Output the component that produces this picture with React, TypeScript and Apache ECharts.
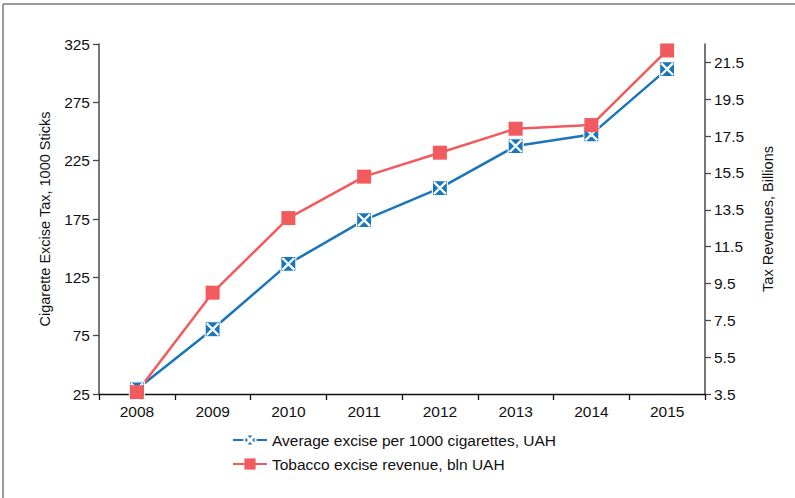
import React, { useEffect, useRef } from "react";
import * as echarts from "echarts";

const years = ["2008", "2009", "2010", "2011", "2012", "2013", "2014", "2015"];
const avgExcise = [29, 80.5, 136.5, 174, 201.5, 237.5, 247.5, 303.5];
const tobaccoRevenue = [3.6, 9.0, 13.05, 15.3, 16.6, 17.9, 18.1, 22.15];
const leftTicks = [25, 75, 125, 175, 225, 275, 325];
const rightTicks = [3.5, 5.5, 7.5, 9.5, 11.5, 13.5, 15.5, 17.5, 19.5, 21.5];

const BLUE = "#1a75bb";
const RED = "#f15b5d";
const FONT = "Liberation Sans, Arial, sans-serif";
const TICK_FS = 15.5;
const NAME_FS = 14.5;

// square with an X-shaped hole (counter-wound)
const crossSquare =
  "path://M0 0 H20 V20 H0 Z M8.9 10 L2 16.9 L3.1 18 L10 11.1 L16.9 18 L18 16.9 L11.1 10 L18 3.1 L16.9 2 L10 8.9 L3.1 2 L2 3.1 Z";

export default function App() {
  const ref = useRef<HTMLDivElement>(null);
  useEffect(() => {
    if (!ref.current) return;
    const chart = echarts.init(ref.current, null, { renderer: "svg" });
    chart.setOption({
      animation: false,
      textStyle: { fontFamily: FONT },
      graphic: [
        { type: "line", shape: { x1: 3, y1: 4, x2: 800, y2: 4 }, style: { stroke: "#7a7a7a", lineWidth: 1.5 } },
        { type: "line", shape: { x1: 3, y1: 4, x2: 3, y2: 510 }, style: { stroke: "#7a7a7a", lineWidth: 1.5 } },
      ],
      grid: { left: 99, right: 90, top: 44, bottom: 104, containLabel: false },
      legend: {
        orient: "vertical",
        left: 227,
        top: 427,
        itemWidth: 34,
        itemHeight: 14,
        itemGap: 8,
        textStyle: { fontSize: 15.5, color: "#111", fontFamily: FONT },
        data: ["Average excise per 1000 cigarettes, UAH", "Tobacco excise revenue, bln UAH"],
      },
      xAxis: {
        type: "category",
        data: years,
        boundaryGap: true,
        axisLine: { lineStyle: { color: "#111", width: 1.3 } },
        axisTick: { show: true, length: 6, lineStyle: { color: "#111", width: 1.3 } },
        axisLabel: { fontSize: TICK_FS, color: "#111", margin: 9, fontFamily: FONT },
        splitLine: { show: false },
      },
      yAxis: [
        {
          type: "value",
          min: 25,
          max: 325,
          interval: 50,
          position: "left",
          name: "Cigarette Excise Tax, 1000 Sticks",
          nameLocation: "middle",
          nameRotate: 90,
          nameGap: 47,
          nameTextStyle: { fontSize: NAME_FS, color: "#111", fontFamily: FONT },
          axisLine: { show: true, lineStyle: { color: "#4a4a4a", width: 1.5 } },
          axisTick: { show: true, length: 6, lineStyle: { color: "#4a4a4a", width: 1.3 }, customValues: leftTicks },
          axisLabel: { fontSize: TICK_FS, color: "#111", margin: 9, fontFamily: FONT, customValues: leftTicks },
          splitLine: { show: false },
        },
        {
          type: "value",
          min: 3.5,
          max: 22.5,
          position: "right",
          name: "Tax Revenues, Billions",
          nameLocation: "middle",
          nameRotate: 90,
          nameGap: 55,
          nameTextStyle: { fontSize: NAME_FS, color: "#111", fontFamily: FONT },
          axisLine: { show: true, lineStyle: { color: "#4a4a4a", width: 1.5 } },
          axisTick: { show: true, length: 6, lineStyle: { color: "#4a4a4a", width: 1.3 }, customValues: rightTicks },
          axisLabel: {
            fontSize: TICK_FS,
            color: "#111",
            margin: 9,
            fontFamily: FONT,
            customValues: rightTicks,
            formatter: (v: number) => v.toFixed(1),
          },
          splitLine: { show: false },
        },
      ],
      series: [
        {
          name: "Average excise per 1000 cigarettes, UAH",
          type: "line",
          yAxisIndex: 0,
          data: avgExcise,
          symbol: crossSquare,
          symbolSize: 15,
          lineStyle: { color: BLUE, width: 2.5 },
          itemStyle: { color: BLUE, borderColor: "#ffffff", borderWidth: 1.1 },
          emphasis: { disabled: true },
        },
        {
          name: "Tobacco excise revenue, bln UAH",
          type: "line",
          yAxisIndex: 1,
          data: tobaccoRevenue,
          symbol: "rect",
          symbolSize: 14,
          lineStyle: { color: RED, width: 2.5 },
          itemStyle: { color: RED },
          emphasis: { disabled: true },
        },
      ],
    });
    return () => chart.dispose();
  }, []);
  return (
    <div
      ref={ref}
      style={{ position: "fixed", left: 0, top: 0, width: 795, height: 498, background: "#fff" }}
    />
  );
}
